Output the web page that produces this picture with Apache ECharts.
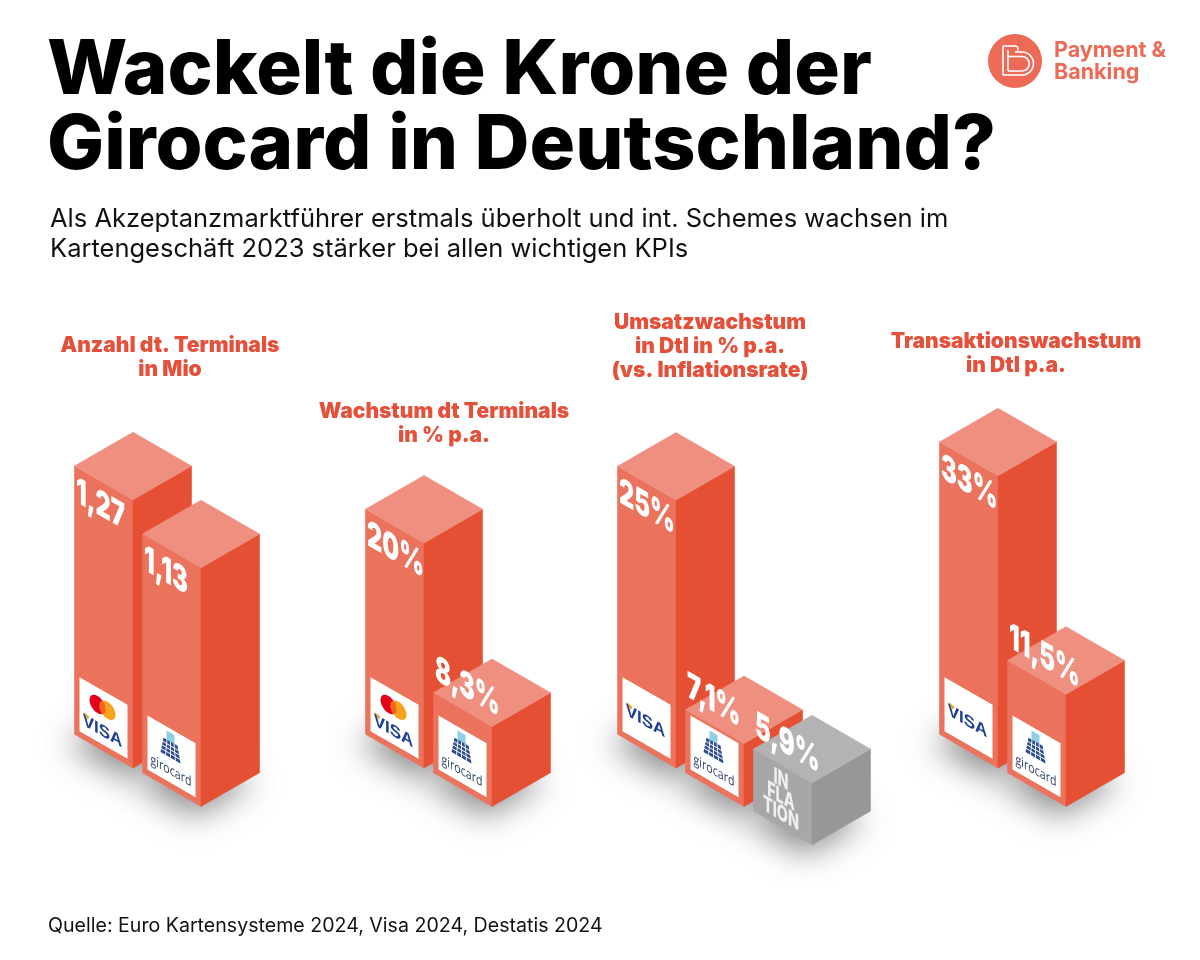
<!DOCTYPE html>
<html><head><meta charset="utf-8"><style>html,body{margin:0;background:#fff}#c{width:1200px;height:960px}</style>
<script src="https://cdn.jsdelivr.net/npm/echarts@6/dist/echarts.min.js"></script></head>
<body><div id="c"></div><script>
const terminalsCats = ['Mastercard/Visa', 'girocard'];
const terminalsVals = [1.27, 1.13];
const terminalsLabels = ['1,27', '1,13'];
const growthCats = ['Mastercard/Visa', 'girocard'];
const growthVals = [20, 8.3];
const growthLabels = ['20%', '8,3%'];
const salesCats = ['Visa', 'girocard', 'Inflation'];
const salesVals = [25, 7.1];
const salesLabels = ['25%', '7,1%'];
const inflationVals = [5.9];
const inflationLabels = ['5,9%'];
const txCats = ['Visa', 'girocard'];
const txVals = [33, 11.5];
const txLabels = ['33%', '11,5%'];

const FONT = 'Inter';
const CORAL = '#E5503A';
const SHEAR = 0.577;
const RED = { top: '#EE8F7F', left: '#EB725C', right: '#E55034' };
const GREY = { top: '#B3B3B3', left: '#A7A7A7', right: '#979797' };

function affine(x, y, m00, m01, m10, m11, children) {
  const E = (m00 + m11) / 2, F = (m00 - m11) / 2, G = (m10 + m01) / 2, H = (m10 - m01) / 2;
  const Q = Math.hypot(E, H), R = Math.hypot(F, G);
  const a1 = Math.atan2(G, F), a2 = Math.atan2(H, E);
  const theta = (a2 - a1) / 2, phi = (a2 + a1) / 2;
  return { type: 'group', x, y, rotation: -phi, scaleX: Q + R, scaleY: Q - R,
    children: [{ type: 'group', rotation: -theta, children }] };
}
function poly(points, fill) {
  return { type: 'polygon', shape: { points }, style: { fill, stroke: fill, lineWidth: 0.6 } };
}
function geom(params, api) {
  const cat = api.value(0), val = api.value(1);
  const band = api.size([1, 0])[0];
  const top = api.coord([cat, val]);
  const base = params.coordSys.y + params.coordSys.height;
  const step = cat * band * 0.565;
  const w = band * 0.86, hh = w * SHEAR;
  return { cat, cx: top[0], w, hh, ft: top[1] + step, fb: base + step };
}
function visaText(cy) {
  return [
    { type: 'text', style: { text: 'VISA', x: 28, y: cy, align: 'center', verticalAlign: 'middle', fontFamily: 'Liberation Sans', fontWeight: 'bold', fontSize: 17, fill: '#1C3F94' } },
    { type: 'polygon', shape: { points: [[9, cy - 9], [15, cy - 7], [13, cy - 3]] }, style: { fill: '#F2A81D' } }
  ];
}
function brandMark(name) {
  const out = [{ type: 'rect', shape: { x: 5, y: -60, width: 48, height: 54 }, style: { fill: '#fff' } }];
  if (name === 'Mastercard/Visa') {
    out.push({ type: 'ellipse', shape: { cx: 23, cy: -43, rx: 8, ry: 8.5 }, style: { fill: '#E3001B' } });
    out.push({ type: 'ellipse', shape: { cx: 33, cy: -43, rx: 8, ry: 8.5 }, style: { fill: '#F8A31C' } });
    out.push({ type: 'ellipse', shape: { cx: 28, cy: -43, rx: 3, ry: 6.2 }, style: { fill: '#F0641E' } });
    out.push(...visaText(-19));
  } else if (name === 'Visa') {
    out.push(...visaText(-29));
  } else if (name === 'girocard') {
    out.push({ type: 'rect', shape: { x: 24, y: -56, width: 8, height: 11 }, style: { fill: '#8ECFE2' } });
    out.push({ type: 'polygon', shape: { points: [[21, -47], [35, -47], [38, -31], [18, -31]] }, style: { fill: '#2C4C8C' } });
    for (let i = 1; i < 4; i++) {
      const y = -47 + i * 4;
      out.push({ type: 'line', shape: { x1: 17, y1: y, x2: 39, y2: y }, style: { stroke: '#fff', lineWidth: 0.9 } });
      const tx = 21 + i * 3.5, bx = 18 + i * 5;
      out.push({ type: 'line', shape: { x1: tx, y1: -47, x2: bx, y2: -31 }, style: { stroke: '#fff', lineWidth: 0.9 } });
    }
    out.push(affine(28.5, -18, 0.92, 0, 0, 1.2, [{ type: 'text', style: { text: 'girocard', x: 0, y: 0, align: 'center', verticalAlign: 'middle', fontFamily: 'Open Sans', fontSize: 11.5, fill: '#2B4463' } }]));
  }
  return out;
}
function renderBar(cats) {
  return function (params, api) {
    const g = geom(params, api);
    const { cx, w, hh, ft, fb } = g;
    const name = cats[g.cat];
    const isGrey = name === 'Inflation';
    const col = isGrey ? GREY : RED;
    const t = (text, y) => affine(27.5, y, 0.8, 0, 0, 1.2, [{ type: 'text', style: { text, x: 0, y: 0, align: 'center', verticalAlign: 'top', fontFamily: FONT, fontWeight: 800, fontSize: 18, fill: '#EFEFEF' } }]);
    const face = isGrey ? [t('IN', -58), t('FLA', -41), t('TION', -24)] : brandMark(name);
    return { type: 'group', children: [
      poly([[cx - w, ft - hh], [cx, ft], [cx, fb], [cx - w, fb - hh]], col.left),
      poly([[cx, ft], [cx + w, ft - hh], [cx + w, fb - hh], [cx, fb]], col.right),
      poly([[cx, ft], [cx - w, ft - hh], [cx, ft - 2 * hh], [cx + w, ft - hh]], col.top),
      affine(cx - w, fb - hh, 1, 0, SHEAR, 1, face)
    ] };
  };
}
const OFF = 3000;
function renderShadow(params, api) {
  const { cx, w, hh, fb } = geom(params, api);
  const by = fb + 10 - hh;
  const bx = cx - 7 - OFF;
  return { type: 'polygon', shape: { points: [[bx - w, by], [bx, by + hh], [bx + w, by], [bx, by - hh]] },
    style: { fill: '#000', shadowBlur: 32, shadowOffsetX: OFF, shadowColor: 'rgba(70,70,70,0.62)' } };
}
function renderLabel(labels) {
  return function (params, api) {
    const { cx, w, hh, ft, fb } = geom(params, api);
    const short = fb - ft < 150;
    const x = cx - w + 1.5;
    const y = ft - hh + (short ? -42 : 7);
    const sx = 0.74;
    return affine(x, y, sx, 0, sx * SHEAR, 1.12, [{
      type: 'text', style: { text: labels[params.dataIndex], x: 0, y: 0, align: 'left', verticalAlign: 'top',
        fontFamily: FONT, fontWeight: 900, fontSize: 32, fill: '#fff' } }]);
  };
}
function barSeries(gridIdx, yIdx, cats, vals, labels, start) {
  const data = vals.map((v, i) => [i + start, v]);
  const common = { type: 'custom', coordinateSystem: 'cartesian2d', xAxisIndex: gridIdx, yAxisIndex: yIdx,
    data, encode: { x: 0, y: 1 }, clip: false, animation: false, silent: true };
  return [
    Object.assign({}, common, { z: 1, renderItem: renderShadow }),
    Object.assign({}, common, { z: 2 + start, renderItem: renderBar(cats) }),
    Object.assign({}, common, { z: 10, renderItem: renderLabel(labels) })
  ];
}
const grids = [
  { left: 99, top: 468, width: 136, height: 300 },
  { left: 390, top: 468, width: 136, height: 300 },
  { left: 642, top: 468, width: 204, height: 300 },
  { left: 964, top: 448, width: 136, height: 320 }
];
const xAxes = [terminalsCats, growthCats, salesCats, txCats].map((c, i) => ({ type: 'category', gridIndex: i, data: c, show: false }));
const yAxes = [
  { type: 'value', gridIndex: 0, show: false, min: 0, max: 1.42 },
  { type: 'value', gridIndex: 1, show: false, min: 1.85, max: 26.04 },
  { type: 'value', gridIndex: 2, show: false, min: 1.6, max: 27.8 },
  { type: 'value', gridIndex: 3, show: false, min: -1.9, max: 36.3 },
  { type: 'value', gridIndex: 2, show: false, min: 0, max: 28.55 }
];
const heading = (text, cx, top) => ({ text, left: cx, top, textAlign: 'center', padding: 0, itemGap: 0,
  textStyle: { fontFamily: FONT, fontWeight: 900, fontSize: 21, lineHeight: 24, color: CORAL } });
const logoStroke = { fill: 'none', stroke: '#fff', lineWidth: 1.6 };
const logoLine = (x1, y1, x2, y2) => ({ type: 'line', shape: { x1, y1, x2, y2 }, style: logoStroke });
const logoArc = (cx, cy, r, a, b) => ({ type: 'arc', shape: { cx, cy, r, startAngle: a, endAngle: b, clockwise: true }, style: logoStroke });
const QUARTER = Math.PI / 2;

const option = {
  backgroundColor: '#fff',
  animation: false,
  title: [
    { text: 'Wackelt die Krone der\nGirocard in Deutschland?', left: 47, top: 34, padding: 0,
      textStyle: { fontFamily: FONT, fontWeight: 800, fontSize: 76, lineHeight: 75, color: '#000' } },
    { text: 'Als Akzeptanzmarktführer erstmals überholt und int. Schemes wachsen im\nKartengeschäft 2023 stärker bei allen wichtigen KPIs', left: 50, top: 204, padding: 0,
      textStyle: { fontFamily: FONT, fontWeight: 400, fontSize: 25.5, lineHeight: 30.5, color: '#111' } },
    heading('Anzahl dt. Terminals\nin Mio', 170, 334),
    heading('Wachstum dt Terminals\nin % p.a.', 444, 400),
    heading('Umsatzwachstum\nin Dtl in % p.a.\n(vs. Inflationsrate)', 710, 311),
    heading('Transaktionswachstum\nin Dtl p.a.', 1016, 330),
    { text: 'Quelle: Euro Kartensysteme 2024, Visa 2024, Destatis 2024', left: 48, top: 916, padding: 0,
      textStyle: { fontFamily: FONT, fontWeight: 400, fontSize: 19.6, color: '#111' } }
  ],
  grid: grids, xAxis: xAxes, yAxis: yAxes,
  series: [
    ...barSeries(0, 0, terminalsCats, terminalsVals, terminalsLabels, 0),
    ...barSeries(1, 1, growthCats, growthVals, growthLabels, 0),
    ...barSeries(2, 2, salesCats, salesVals, salesLabels, 0),
    ...barSeries(2, 4, salesCats, inflationVals, inflationLabels, 2),
    ...barSeries(3, 3, txCats, txVals, txLabels, 0)
  ],
  graphic: [
    { type: 'circle', shape: { cx: 1015, cy: 61, r: 27 }, style: { fill: '#EC6A56' } },
    logoLine(1003, 46, 1003, 75), logoLine(1003, 46, 1015, 46), logoLine(1003, 75, 1022, 75),
    logoArc(1015, 49, 3, -QUARTER, 0.6), logoArc(1022, 63.5, 11.5, -QUARTER, QUARTER), logoLine(1015, 52, 1022, 52),
    logoLine(1008, 50, 1008, 71), logoLine(1008, 71, 1022, 71), logoLine(1008, 56.5, 1022, 56.5), logoArc(1022, 63.75, 7.25, -QUARTER, QUARTER),
    { type: 'text', style: { text: 'Payment &', x: 1054, y: 40, fontFamily: FONT, fontWeight: 700, fontSize: 21.5, fill: '#EC6A56' } },
    { type: 'text', style: { text: 'Banking', x: 1054, y: 62, fontFamily: FONT, fontWeight: 700, fontSize: 21.5, fill: '#EC6A56' } }
  ]
};
echarts.init(document.getElementById('c')).setOption(option);
</script></body></html>
